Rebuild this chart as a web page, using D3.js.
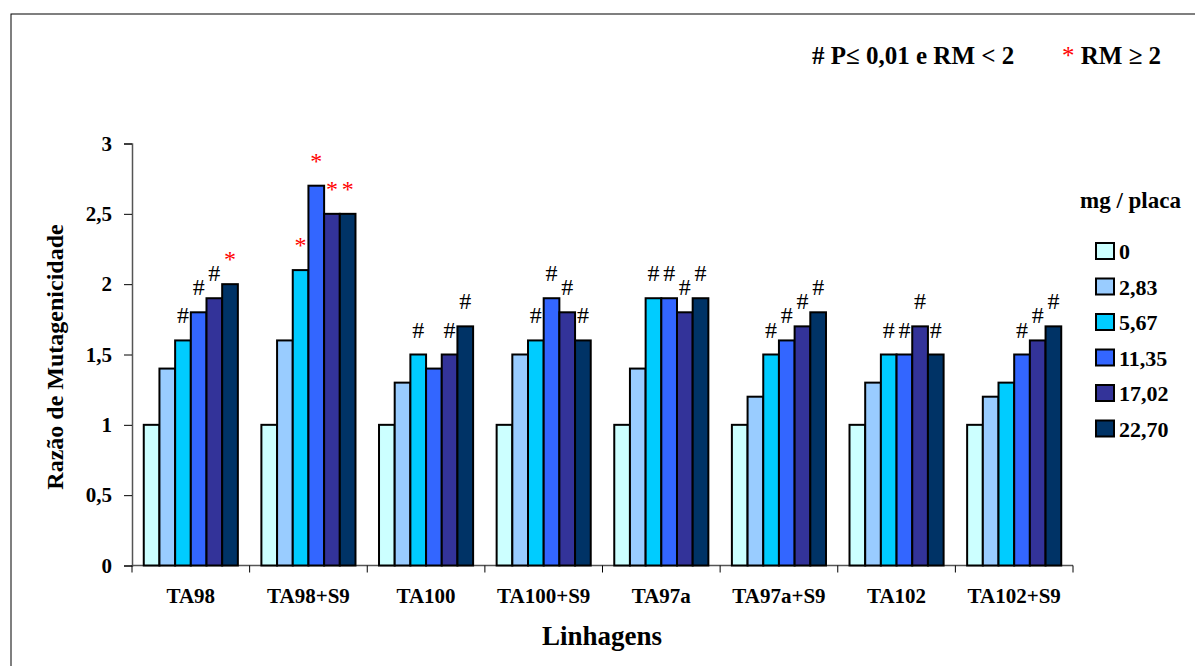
<!DOCTYPE html>
<html>
<head>
<meta charset="utf-8">
<script src="https://cdn.jsdelivr.net/npm/d3@7"></script>
<style>
  body { margin: 0; background: #fff; }
</style>
</head>
<body>
<svg></svg>
<script>
const width = 1195;
const height = 666;
const serif = "'Liberation Serif', 'Times New Roman', Tinos, 'DejaVu Serif', serif";

// strains (x categories)
const linhagens = ["TA98", "TA98+S9", "TA100", "TA100+S9", "TA97a", "TA97a+S9", "TA102", "TA102+S9"];

// doses, mg / placa
const doses = ["0", "2,83", "5,67", "11,35", "17,02", "22,70"];

// mutagenicity ratio, one row per strain, one value per dose
const ratios = [
  [1, 1.4, 1.6, 1.8, 1.9, 2.0],
  [1, 1.6, 2.1, 2.7, 2.5, 2.5],
  [1, 1.3, 1.5, 1.4, 1.5, 1.7],
  [1, 1.5, 1.6, 1.9, 1.8, 1.6],
  [1, 1.4, 1.9, 1.9, 1.8, 1.9],
  [1, 1.2, 1.5, 1.6, 1.7, 1.8],
  [1, 1.3, 1.5, 1.5, 1.7, 1.5],
  [1, 1.2, 1.3, 1.5, 1.6, 1.7]
];

// significance marks per bar ("#" P<=0,01 and RM<2, "*" RM>=2, "" none)
const marks = [
  ["", "", "#", "#", "#", "*"],
  ["", "", "*", "*", "*", "*"],
  ["", "", "#", "", "#", "#"],
  ["", "", "#", "#", "#", "#"],
  ["", "", "#", "#", "#", "#"],
  ["", "", "#", "#", "#", "#"],
  ["", "", "#", "#", "#", "#"],
  ["", "", "", "#", "#", "#"]
];

const yTicks = [0, 0.5, 1, 1.5, 2, 2.5, 3];

const colors = ["#CCFFFF", "#99CCFF", "#00CCFF", "#3366FF", "#333399", "#003366"];

const svg = d3.select("svg")
  .attr("width", width)
  .attr("height", height)
  .attr("font-family", serif);

// outer frame
svg.append("rect")
  .attr("x", 11).attr("y", 14)
  .attr("width", width + 20).attr("height", height + 20)
  .attr("fill", "none")
  .attr("stroke", "#000")
  .attr("stroke-width", 1);

const x0 = d3.scaleBand()
  .domain(linhagens)
  .range([132, 1073]);

const x1 = d3.scaleBand()
  .domain(doses)
  .range([0, x0.bandwidth()])
  .paddingOuter(0.75);

const y = d3.scaleLinear()
  .domain([0, 3])
  .range([565.5, 143.5]);

const fmt = d => String(d).replace(".", ",");

// y axis
const yAxis = svg.append("g")
  .attr("transform", "translate(132,0)")
  .call(d3.axisLeft(y).tickValues(yTicks).tickFormat(fmt).tickSize(8).tickPadding(12))
  .attr("font-family", serif);
yAxis.select(".domain").attr("stroke", "#555").attr("stroke-width", 1.5);
yAxis.selectAll(".tick line").attr("stroke", "#000");
yAxis.selectAll(".tick text")
  .attr("font-family", serif)
  .attr("font-size", 21)
  .attr("font-weight", "bold")
  .attr("fill", "#000");

// x axis: ticks between groups
const xAxis = svg.append("g")
  .attr("transform", `translate(0,${y(0)})`);
xAxis.append("line")
  .attr("x1", x0.range()[0]).attr("x2", x0.range()[1])
  .attr("stroke", "#555").attr("stroke-width", 1.5);
xAxis.selectAll(".sep")
  .data(linhagens.concat(["end"]))
  .enter().append("line")
  .attr("x1", (d, i) => x0.range()[0] + i * x0.step())
  .attr("x2", (d, i) => x0.range()[0] + i * x0.step())
  .attr("y1", 0).attr("y2", 7)
  .attr("stroke", "#000");
xAxis.selectAll(".lab")
  .data(linhagens)
  .enter().append("text")
  .attr("x", d => x0(d) + x0.bandwidth() / 2)
  .attr("y", 37)
  .attr("text-anchor", "middle")
  .attr("font-size", 21)
  .attr("font-weight", "bold")
  .text(d => d);

// bars
const groups = svg.selectAll(".grp")
  .data(linhagens)
  .enter().append("g")
  .attr("transform", d => `translate(${x0(d)},0)`);

groups.selectAll("rect")
  .data((d, i) => ratios[i].map((v, j) => ({ dose: doses[j], v, j })))
  .enter().append("rect")
  .attr("x", d => x1(d.dose))
  .attr("y", d => y(d.v))
  .attr("width", x1.bandwidth())
  .attr("height", d => y(0) - y(d.v))
  .attr("fill", d => colors[d.j])
  .attr("stroke", "#000")
  .attr("stroke-width", 2);

groups.selectAll(".mk")
  .data((d, i) => ratios[i].map((v, j) => ({ dose: doses[j], v, m: marks[i][j] })).filter(d => d.m))
  .enter().append("text")
  .attr("x", d => x1(d.dose) + x1.bandwidth() / 2)
  .attr("y", d => y(d.v) - 17)
  .attr("text-anchor", "middle")
  .attr("font-size", 24)
  .attr("fill", d => d.m === "*" ? "#FF0000" : "#000")
  .text(d => d.m);

// axis titles
svg.append("text")
  .attr("x", 602).attr("y", 645)
  .attr("text-anchor", "middle")
  .attr("font-size", 27)
  .attr("font-weight", "bold")
  .text("Linhagens");

svg.append("text")
  .attr("transform", "translate(63,357) rotate(-90)")
  .attr("text-anchor", "middle")
  .attr("font-size", 24)
  .attr("font-weight", "bold")
  .text("Razão de Mutagenicidade");

// significance legend
const sig = svg.append("text")
  .attr("x", 812).attr("y", 64)
  .attr("font-size", 25)
  .attr("font-weight", "bold");
sig.append("tspan").text("# P≤ 0,01 e RM < 2");
sig.append("tspan").attr("x", 1062).attr("fill", "#FF0000").attr("font-weight", "normal").text("*");
sig.append("tspan").text(" RM ≥ 2");

// dose legend
svg.append("text")
  .attr("x", 1080).attr("y", 208)
  .attr("font-size", 23)
  .attr("font-weight", "bold")
  .text("mg / placa");

const leg = svg.selectAll(".leg")
  .data(doses)
  .enter().append("g")
  .attr("transform", (d, i) => `translate(1096,${251 + i * 35.5})`);
leg.append("rect")
  .attr("x", 0).attr("y", -8)
  .attr("width", 18).attr("height", 16)
  .attr("fill", (d, i) => colors[i])
  .attr("stroke", "#000")
  .attr("stroke-width", 2);
leg.append("text")
  .attr("x", 23).attr("y", 8)
  .attr("font-size", 22)
  .attr("font-weight", "bold")
  .text(d => d);
</script>
</body>
</html>
